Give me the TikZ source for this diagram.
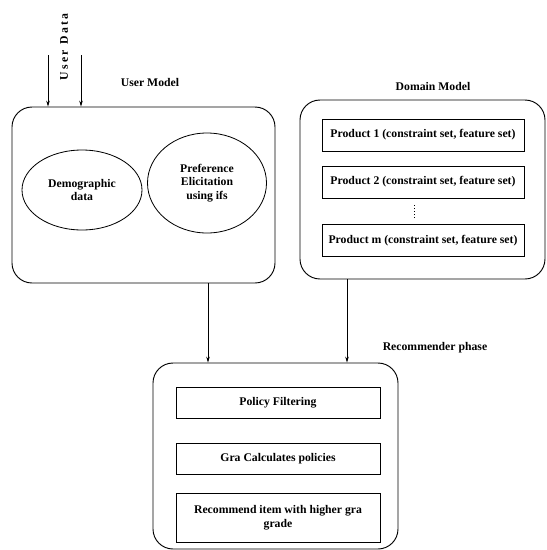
\documentclass[tikz,border=0pt]{standalone}
\usepackage{fontspec}
\setmainfont{Liberation Serif}
\usetikzlibrary{arrows.meta, positioning}
\usetikzlibrary{shapes.geometric}
\usetikzlibrary{calc}

\begin{document}
\begin{tikzpicture}[x=0.03cm,y=-0.03cm,
        font=\fontsize{10}{11.5}\selectfont\bfseries,
        outer/.style={draw,rounded corners=0.6cm,line width=0.8pt,inner sep=0pt},
        item/.style={draw,line width=0.5pt,inner sep=1pt,align=center},
        blob/.style={ellipse,draw,line width=0.7pt,align=center,inner sep=0pt},
        arr/.style={-{Stealth[length=5pt,width=3pt]},line width=0.5pt}]
            \useasboundingbox (0,0) rectangle (546,550);
            % boxes
            \node[outer,minimum width=263*0.03cm,minimum height=176*0.03cm](usermodel) at (143.5,195) {};
            \node[outer,minimum width=245*0.03cm,minimum height=179*0.03cm](domainmodel) at (422.5,189.5) {};
            \node[outer,minimum width=245*0.03cm,minimum height=186*0.03cm](recommender) at (275.5,456) {};
            % titles
            \node(umlabel) at (150,82) {User Model};
            \node(dmlabel) at (433,86) {Domain Model};
            \node(rclabel) at (435,348) {Recommender phase};
            \node[rotate=90,font=\fontsize{10}{11.5}\selectfont\bfseries\addfontfeature{LetterSpace=20}](udlabel) at (64,47) {User Data};
            % user model
            \node[blob,minimum width=120*0.03cm,minimum height=80*0.03cm](demo) at (82,190) {Demographic\\data};
            \node[blob,minimum width=119*0.03cm,minimum height=100*0.03cm](pref) at (207,183) {Preference\\Elicitation\\using ifs};
            % domain model
            \node[item,minimum width=202*0.03cm,minimum height=32*0.03cm](prod1) at (423,135) {Product 1 (constraint set, feature set)};
            \node[item,minimum width=202*0.03cm,minimum height=32*0.03cm](prod2) at (423,182) {Product 2 (constraint set, feature set)};
            \node[item,minimum width=202*0.03cm,minimum height=32*0.03cm](prodm) at (423,240.5) {Product m (constraint set, feature set)};
            \draw[dotted,line width=0.6pt] ($(prod2.south)+(-9,7)$) -- ($(prodm.north)+(-9,-5)$);
            % recommender phase
            \node[item,minimum width=204*0.03cm,minimum height=31*0.03cm](policy) at (278,402.5) {Policy Filtering};
            \node[item,minimum width=204*0.03cm,minimum height=31*0.03cm](gracalc) at (278,458.5) {Gra Calculates policies};
            \node[item,minimum width=204*0.03cm,minimum height=49*0.03cm](recitem) at (278,517.5) {Recommend item with higher gra\\grade};
            % arrows
            \coordinate (ud1) at (48,55);
            \coordinate (ud2) at (81,55);
            \coordinate (ux) at (208,0);
            \coordinate (dx) at (347,0);
            \draw[arr] (ud1) -- (usermodel.north -| ud1);
            \draw[arr] (ud2) -- (usermodel.north -| ud2);
            \draw[arr] (usermodel.south -| ux) -- (recommender.north -| ux);
            \draw[arr] (domainmodel.south -| dx) -- (recommender.north -| dx);
        \end{tikzpicture}
\end{document}
